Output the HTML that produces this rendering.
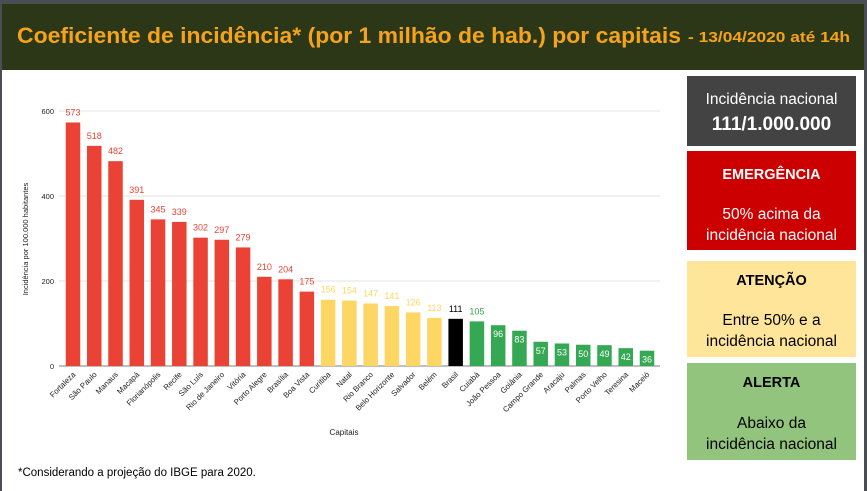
<!DOCTYPE html>
<html><head><meta charset="utf-8"><style>
html,body{margin:0;padding:0;background:#fff;}
svg{display:block;font-family:"Liberation Sans",sans-serif;}
</style></head><body>
<svg id="chart" width="867" height="491" viewBox="0 0 867 491">
<rect x="0" y="0" width="867" height="491" fill="#ffffff"/>
<rect x="0" y="0" width="867" height="4" fill="#4a4d52"/>
<rect x="0" y="0" width="2" height="491" fill="#4a4d52"/>
<rect x="864" y="0" width="3" height="491" fill="#4a4d52"/>
<rect x="2" y="4" width="862" height="66" fill="#2b3716"/>
<text x="17" y="43" fill="#f5a31a" font-weight="bold" font-size="22" textLength="664" lengthAdjust="spacingAndGlyphs">Coeficiente de incidência* (por 1 milhão de hab.) por capitais</text>
<text x="688" y="42" fill="#f5a31a" font-weight="bold" font-size="15" textLength="162" lengthAdjust="spacingAndGlyphs">- 13/04/2020 até 14h</text>

<g id="grid"></g>
<g id="bars"></g>
<text transform="translate(28,239) rotate(-90)" text-anchor="middle" font-size="7.5" fill="#222">Incidência por 100.000 habitantes</text>
<text x="344" y="435" font-size="8" fill="#222" text-anchor="middle">Capitais</text>

<rect x="687" y="76" width="169" height="70" fill="#434343"/>
<text x="771.5" y="104" text-anchor="middle" fill="#fff" font-size="15.5">Incidência nacional</text>
<text x="771.5" y="130" text-anchor="middle" fill="#fff" font-size="19" font-weight="bold">111/1.000.000</text>

<rect x="687" y="151" width="169" height="99" fill="#cc0000"/>
<text x="771.5" y="179" text-anchor="middle" fill="#fff" font-size="14.5" font-weight="bold">EMERGÊNCIA</text>
<text x="771.5" y="219" text-anchor="middle" fill="#fff" font-size="15.5">50% acima da</text>
<text x="771.5" y="240" text-anchor="middle" fill="#fff" font-size="15.5">incidência nacional</text>

<rect x="687" y="261" width="169" height="96" fill="#ffe599"/>
<text x="771.5" y="285" text-anchor="middle" fill="#000" font-size="14.5" font-weight="bold">ATENÇÃO</text>
<text x="771.5" y="325" text-anchor="middle" fill="#000" font-size="15.5">Entre 50% e a</text>
<text x="771.5" y="346" text-anchor="middle" fill="#000" font-size="15.5">incidência nacional</text>

<rect x="687" y="363" width="169" height="97" fill="#93c47d"/>
<text x="771.5" y="387" text-anchor="middle" fill="#000" font-size="14.5" font-weight="bold">ALERTA</text>
<text x="771.5" y="428" text-anchor="middle" fill="#000" font-size="15.5">Abaixo da</text>
<text x="771.5" y="449" text-anchor="middle" fill="#000" font-size="15.5">incidência nacional</text>

<text x="18" y="476" fill="#000" font-size="11.5">*Considerando a projeção do IBGE para 2020.</text>
</svg>
<script>
const categories = ["Fortaleza","São Paulo","Manaus","Macapá","Florianópolis","Recife","São Luís","Rio de Janeiro","Vitória","Porto Alegre","Brasília","Boa Vista","Curitiba","Natal","Rio Branco","Belo Horizonte","Salvador","Belém","Brasil","Cuiabá","João Pessoa","Goiânia","Campo Grande","Aracaju","Palmas","Porto Velho","Teresina","Maceió"];
const values = [573,518,482,391,345,339,302,297,279,210,204,175,156,154,147,141,126,113,111,105,96,83,57,53,50,49,42,36];
const yTicks = [0,200,400,600];
const NATIONAL = 111;

const NS = "http://www.w3.org/2000/svg";
const x0 = 73, step = (647 - 73) / (categories.length - 1), bw = 14.5;
function xPos(i){ return x0 + i * step; }
function yPos(v){ return 366 - v * (255 / 600); }
function colorFor(name, v){
  if (name === "Brasil") return ["#000000","#000000"];
  if (v > NATIONAL * 1.5) return ["#ea4335","#ea4335"];
  if (v > NATIONAL) return ["#fdd663","#fdd663"];
  return ["#34a853","#34a853"];
}
function mk(tag, attrs, parent){
  const e = document.createElementNS(NS, tag);
  for (const k in attrs) e.setAttribute(k, attrs[k]);
  parent.appendChild(e);
  return e;
}
const grid = document.getElementById("grid");
yTicks.forEach(t => {
  const l = mk("line", {x1:59, x2:660, y1:yPos(t), y2:yPos(t), stroke: t===0 ? "#999" : "#e3e3e3", "stroke-width": t===0 ? 1.2 : 1}, grid);
  
  
  const tx = mk("text", {x:54, y:yPos(t)+3, "text-anchor":"end", "font-size":7.5, fill:"#222"}, grid);
  tx.textContent = t;
  
  
});
const bars = document.getElementById("bars");
categories.forEach((c, i) => {
  const v = values[i];
  const cx = xPos(i);
  const [fill, lc] = colorFor(c, v);
  const r = mk("rect", {x: cx - bw/2, y: yPos(v), width: bw, height: yPos(0) - yPos(v), fill: fill}, bars);
  
  
  const inside = v < 100 && c !== "Brasil";
  const lab = mk("text", {x: cx, y: inside ? yPos(v) + 12 : yPos(v) - 7, "text-anchor":"middle", "font-size": 9, fill: inside ? "#ffffff" : lc}, bars);
  lab.textContent = v;
  
  
  const xl = mk("text", {transform: `translate(${cx+3},${yPos(0)+9}) rotate(-45)`, "text-anchor":"end", "font-size": 7.8, fill:"#222"}, bars);
  xl.textContent = c;
  
  
});
</script>
</body></html>
